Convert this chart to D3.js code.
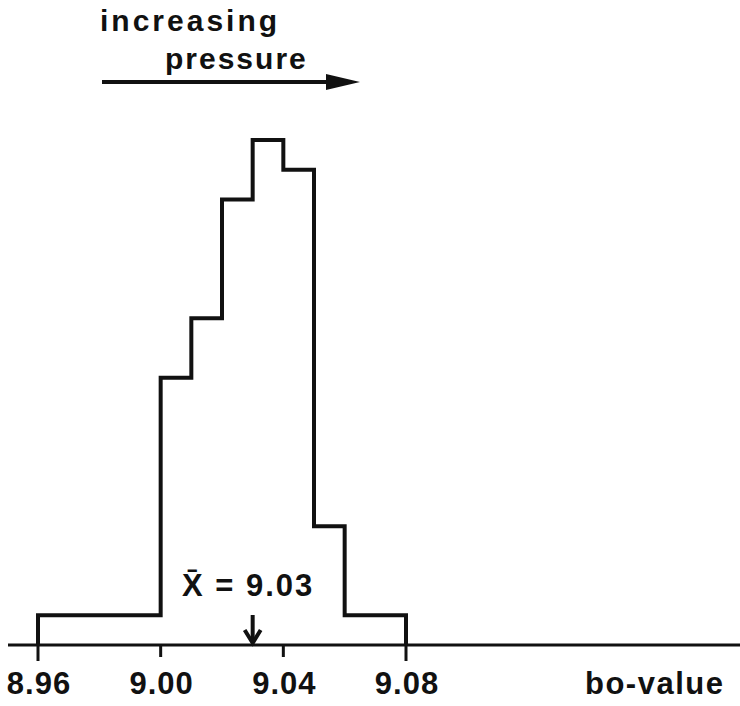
<!DOCTYPE html>
<html>
<head>
<meta charset="utf-8">
<script src="https://d3js.org/d3.v7.min.js"></script>
<style>
    body { margin: 0; background: #fff; }
    svg { display: block; }
    text {
        font-family: "Liberation Sans", Arial, sans-serif;
        font-weight: bold;
        fill: #111;
    }
    .hist { fill: none; stroke: #111; stroke-width: 4; stroke-linejoin: miter; }
    .axisline { stroke: #111; stroke-width: 3; }
    .tick { stroke: #111; stroke-width: 3; }
</style>
</head>
<body>
<div id="chart"></div>
<script>
// histogram bins of bo-value and their counts
var binStart = [8.96, 9.00, 9.01, 9.02, 9.03, 9.04, 9.05, 9.06];
var binEnd   = [9.00, 9.01, 9.02, 9.03, 9.04, 9.05, 9.06, 9.08];
var counts   = [1, 9, 11, 15, 17, 16, 4, 1];
var tickValues = [8.96, 9.00, 9.04, 9.08];
var meanValue = 9.03;

var width = 740, height = 706;
var baseY = 645;

var svg = d3.select("#chart").append("svg")
    .attr("width", width)
    .attr("height", height);

var x = d3.scaleLinear().domain([8.96, 9.08]).range([38, 406]);
var y = d3.scaleLinear().domain([0, 17]).range([baseY, 140]);

// axis line
svg.append("line")
    .attr("class", "axisline")
    .attr("x1", 8).attr("x2", width)
    .attr("y1", baseY).attr("y2", baseY);

// tick marks
svg.selectAll(".tick")
    .data(tickValues)
    .enter().append("line")
    .attr("class", "tick")
    .attr("x1", function(d) { return x(d); })
    .attr("x2", function(d) { return x(d); })
    .attr("y1", baseY)
    .attr("y2", function(d, i) { return (i == 0 || i == tickValues.length - 1) ? baseY + 16 : baseY + 12; });

// tick labels
svg.selectAll(".ticklabel")
    .data(tickValues)
    .enter().append("text")
    .attr("class", "ticklabel")
    .attr("x", function(d) { return x(d) + 1; })
    .attr("y", 694)
    .attr("text-anchor", "middle")
    .style("font-size", "31px")
    .style("letter-spacing", "1px")
    .text(function(d) { return d.toFixed(2); });

svg.append("text")
    .attr("x", 585)
    .attr("y", 694)
    .style("font-size", "31px")
    .style("letter-spacing", "1.5px")
    .text("bo-value");

// histogram outline as a step line
var pts = [[x(binStart[0]), baseY]];
for (var i = 0; i < counts.length; i++) {
    pts.push([x(binStart[i]), y(counts[i])]);
    pts.push([x(binEnd[i]), y(counts[i])]);
}
pts.push([x(binEnd[binEnd.length - 1]), baseY]);

svg.append("path")
    .attr("class", "hist")
    .attr("d", d3.line()(pts));

// mean marker
var mx = x(meanValue);
svg.append("line")
    .attr("x1", mx).attr("x2", mx)
    .attr("y1", 615).attr("y2", baseY - 4)
    .attr("stroke", "#111").attr("stroke-width", 4);
svg.append("path")
    .attr("d", "M" + (mx - 8) + "," + (baseY - 15) + "L" + mx + "," + (baseY - 2) + "L" + (mx + 8) + "," + (baseY - 15))
    .attr("fill", "none").attr("stroke", "#111").attr("stroke-width", 4);

svg.append("text")
    .attr("x", 182)
    .attr("y", 596)
    .style("font-size", "31px")
    .style("letter-spacing", "2px")
    .text("X\u0304 = 9.03");

// increasing pressure annotation
svg.append("text")
    .attr("x", 100).attr("y", 31)
    .style("font-size", "30px")
    .style("letter-spacing", "3px")
    .text("increasing");
svg.append("text")
    .attr("x", 165).attr("y", 69)
    .style("font-size", "30px")
    .style("letter-spacing", "2px")
    .text("pressure");

svg.append("line")
    .attr("x1", 102).attr("x2", 335)
    .attr("y1", 82).attr("y2", 82)
    .attr("stroke", "#111").attr("stroke-width", 4);
svg.append("path")
    .attr("d", "M326,74L360,82L326,90Z")
    .attr("fill", "#111");
</script>
</body>
</html>
